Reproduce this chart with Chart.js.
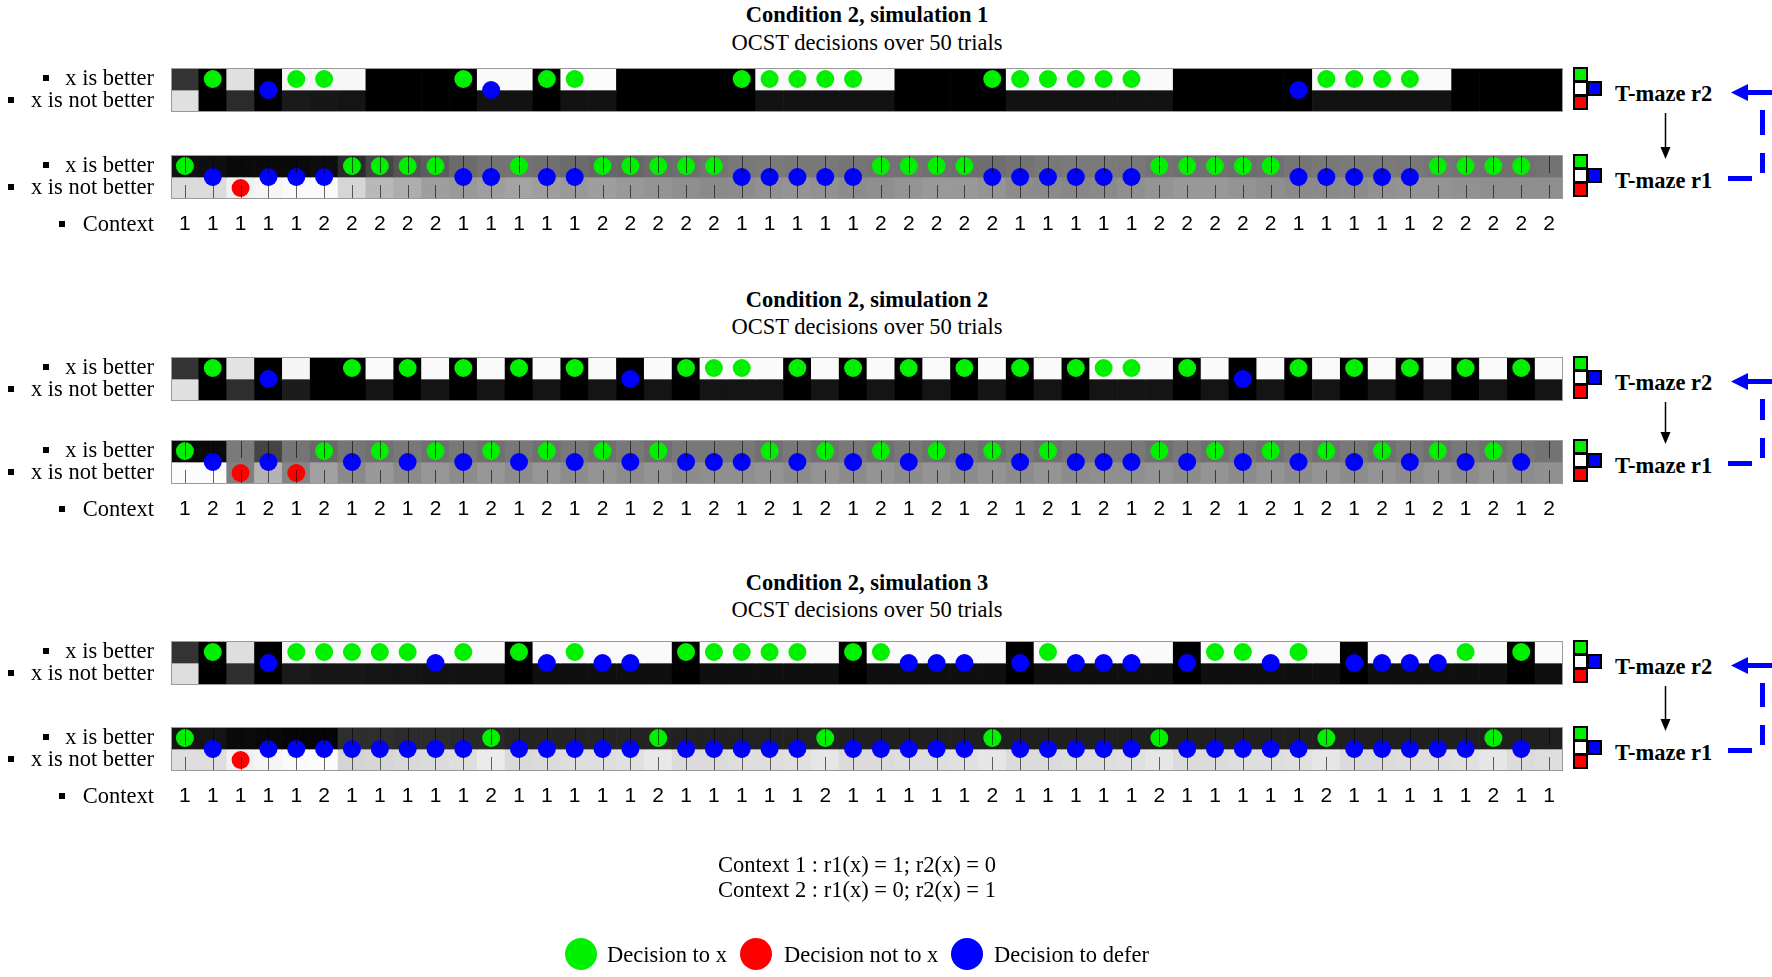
<!DOCTYPE html>
<html>
<head>
<meta charset="utf-8">
<script src="https://cdn.jsdelivr.net/npm/chart.js@4.4.0/dist/chart.umd.min.js"></script>
<style>
  body { margin: 0; background: #fff; }
  #page { position: relative; width: 1772px; height: 977px; overflow: hidden; background: #fff; }
  .txt { position: absolute; font: 22.5px/26px "Liberation Serif", "Times New Roman", serif; white-space: nowrap; color: #000; }
  .sq { position: absolute; width: 15px; height: 15px; box-sizing: border-box; border: 2px solid #000; }
  .dot { position: absolute; width: 32px; height: 32px; border-radius: 50%; }
  svg { position: absolute; left: 0; top: 0; pointer-events: none; }
</style>
</head>
<body>
<div id="page"></div>
<script>
// ---- data (50 trials per simulation) ----
const trials = Array.from({ length: 50 }, (_, i) => String(i + 1));

// context per trial
const sim1Context = '11111222221111122222111112222211111222221111122222'.split('');
const sim2Context = '12121212121212121212121212121212121212121212121212'.split('');
const sim3Context = '11111211111211111211111211111211111211111211111211'.split('');

// decisions per trial: x = decision to x, n = decision not to x, d = decision to defer, . = none
const sim1R2Decisions = '.x.dxx....xd.xx.....xxxxx....xxxxxx.....dxxxx.....'.split('');
const sim1R1Decisions = 'xdndddxxxxddxddxxxxxdddddxxxxddddddxxxxxdddddxxxx.'.split('');
const sim2R2Decisions = '.x.d..x.x.x.x.x.d.xxx.x.x.x.x.x.xxx.x.d.x.x.x.x.x.'.split('');
const sim2R1Decisions = 'xdndnxdxdxdxdxdxdxdddxdxdxdxdxdxdddxdxdxdxdxdxdxd.'.split('');
const sim3R2Decisions = '.x.dxxxxxdx.xdxdd.xxxxx.xxddd.dxddd.dxxdx.ddddx.x.'.split('');
const sim3R1Decisions = 'xdnddddddddxdddddxdddddxdddddxdddddxdddddxdddddxd.'.split('');

// cell shades (0 = black, 1 = white), rows "x is better" / "x is not better"
const sim1R2Top = [0.2,0,0.88,0,0.96,0.97,0.97,0,0,0, 0,0.98,0.98,0,0.99,0.99,0,0,0,0, 0,0.98,0.98,0.98,0.98,0.98,0,0,0,0, 0.98,0.98,0.98,0.98,0.98,0.98,0,0,0,0, 0,0.98,0.98,0.98,0.98,0.98,0,0,0,0];
const sim1R2Bottom = [0.88,0,0.17,0,0.1,0.09,0.08,0,0,0, 0,0.07,0.07,0,0.07,0.07,0,0,0,0, 0,0.07,0.07,0.07,0.07,0.07,0,0,0,0, 0.07,0.07,0.07,0.07,0.07,0.07,0,0,0,0, 0,0.07,0.07,0.07,0.07,0.07,0,0,0,0];
const sim1R1Top = [0.07,0.06,0.04,0.04,0.04,0.05,0.17,0.27,0.33,0.36, 0.42,0.45,0.45,0.44,0.42,0.40,0.40,0.42,0.43,0.45, 0.47,0.48,0.47,0.47,0.46,0.45,0.45,0.44,0.43,0.43, 0.45,0.47,0.48,0.48,0.47,0.45,0.44,0.44,0.43,0.44, 0.46,0.47,0.48,0.48,0.47,0.46,0.45,0.44,0.44,0.45];
const sim1R1Bottom = [0.86,0.86,0.94,0.96,0.98,0.98,0.84,0.72,0.68,0.62, 0.60,0.62,0.64,0.62,0.60,0.62,0.60,0.58,0.56,0.54, 0.55,0.57,0.58,0.57,0.55,0.56,0.58,0.60,0.60,0.58, 0.55,0.54,0.53,0.54,0.56,0.58,0.60,0.60,0.58,0.56, 0.54,0.54,0.55,0.57,0.58,0.58,0.57,0.56,0.56,0.56];

const sim2R2Top = [0.2,0,0.89,0,0.96,0,0,0.98,0,0.98, 0,0.98,0,0.98,0,0.98,0,0.98,0,0.98, 0.98,0.98,0,0.98,0,0.98,0,0.98,0,0.98, 0,0.98,0,0.98,0.98,0.98,0,0.98,0,0.98, 0,0.98,0,0.98,0,0.98,0,0.98,0,0.98];
const sim2R2Bottom = [0.88,0,0.18,0,0.11,0,0,0.08,0,0.08, 0,0.08,0,0.08,0,0.08,0,0.08,0,0.08, 0.08,0.08,0,0.08,0,0.08,0,0.08,0,0.08, 0,0.08,0,0.08,0.08,0.08,0,0.08,0,0.08, 0,0.08,0,0.08,0,0.08,0,0.08,0,0.08];
const sim2R1Top = [0.03,0.04,0.48,0.27,0.46,0.41,0.46,0.44,0.47,0.44, 0.47,0.44,0.47,0.44,0.47,0.44,0.47,0.44,0.47,0.47, 0.47,0.44,0.47,0.44,0.47,0.44,0.47,0.44,0.47,0.44, 0.47,0.44,0.47,0.47,0.47,0.44,0.47,0.44,0.47,0.44, 0.47,0.44,0.47,0.44,0.47,0.44,0.47,0.44,0.47,0.45];
const sim2R1Bottom = [0.99,0.99,0.50,0.70,0.52,0.63,0.54,0.60,0.54,0.59, 0.55,0.59,0.55,0.59,0.55,0.58,0.55,0.58,0.55,0.56, 0.56,0.58,0.55,0.58,0.55,0.58,0.55,0.58,0.55,0.58, 0.55,0.58,0.55,0.56,0.56,0.58,0.55,0.58,0.55,0.58, 0.55,0.58,0.55,0.58,0.55,0.58,0.55,0.58,0.55,0.57];

const sim3R2Top = [0.2,0,0.87,0,0.96,0.97,0.97,0.97,0.98,0.98, 0.98,0.98,0,0.98,0.98,0.98,0.98,0.98,0,0.98, 0.98,0.98,0.98,0.98,0,0.98,0.98,0.98,0.98,0.98, 0,0.98,0.98,0.98,0.98,0.98,0,0.98,0.98,0.98, 0.98,0.98,0,0.98,0.98,0.98,0.98,0.98,0,0.98];
const sim3R2Bottom = [0.87,0,0.18,0,0.1,0.09,0.09,0.08,0.08,0.07, 0.07,0.07,0,0.06,0.06,0.06,0.06,0.06,0,0.06, 0.06,0.06,0.06,0.06,0,0.06,0.06,0.06,0.06,0.06, 0,0.06,0.06,0.06,0.06,0.06,0,0.06,0.06,0.06, 0.06,0.06,0,0.06,0.06,0.06,0.06,0.06,0,0.06];
const sim3R1Top = [0.08,0.08,0.04,0.03,0.02,0.02,0.18,0.18,0.17,0.17, 0.16,0.16,0.14,0.14,0.14,0.14,0.14,0.14,0.13,0.13, 0.13,0.13,0.13,0.13,0.12,0.12,0.12,0.12,0.12,0.12, 0.12,0.12,0.12,0.12,0.12,0.12,0.12,0.12,0.12,0.12, 0.12,0.12,0.12,0.12,0.12,0.12,0.12,0.12,0.12,0.12];
const sim3R1Bottom = [0.87,0.87,0.94,0.96,0.98,0.99,0.83,0.84,0.85,0.86, 0.87,0.92,0.85,0.86,0.87,0.87,0.88,0.91,0.86,0.86, 0.87,0.87,0.88,0.90,0.86,0.86,0.87,0.87,0.88,0.90, 0.86,0.86,0.87,0.87,0.88,0.90,0.86,0.86,0.87,0.87, 0.88,0.90,0.86,0.86,0.87,0.87,0.88,0.90,0.86,0.87];

const titles = ['Condition 2, simulation 1', 'Condition 2, simulation 2', 'Condition 2, simulation 3'];
const rowLabels = ['x is better', 'x is not better'];
const legendLabels = ['Decision to x', 'Decision not to x', 'Decision to defer'];
const contextNotes = ['Context 1 : r1(x) = 1; r2(x) = 0', 'Context 2 : r1(x) = 0; r2(x) = 1'];

// ---- layout ----
const SERIF = '"Liberation Serif", "Times New Roman", serif';
const SANS = '"Liberation Sans", Arial, sans-serif';
const GREEN = '#00f000', RED = '#ff0000', BLUE = '#0000ff';
const AREA_LEFT = 171, AREA_RIGHT = 1563, ROW_H = 44, AXIS_H = 40;

const sims = [
  { context: sim1Context, r2: [sim1R2Top, sim1R2Bottom, sim1R2Decisions], r1: [sim1R1Top, sim1R1Bottom, sim1R1Decisions] },
  { context: sim2Context, r2: [sim2R2Top, sim2R2Bottom, sim2R2Decisions], r1: [sim2R1Top, sim2R1Bottom, sim2R1Decisions] },
  { context: sim3Context, r2: [sim3R2Top, sim3R2Bottom, sim3R2Decisions], r1: [sim3R1Top, sim3R1Bottom, sim3R1Decisions] }
];
const placement = [
  { titleY: 15, subY: 43, r2Top: 68, r1Top: 155 },
  { titleY: 300, subY: 327, r2Top: 357, r1Top: 440 },
  { titleY: 583, subY: 610, r2Top: 641, r1Top: 727 }
];

const page = document.getElementById('page');

function gray(v) {
  const c = Math.round(v * 255);
  return `rgb(${c},${c},${c})`;
}

function addText(str, x, yc, align, bold) {
  const el = document.createElement('div');
  el.className = 'txt';
  el.textContent = str;
  el.style.top = (yc - 13) + 'px';
  if (align === 'center') {
    el.style.left = (x - 400) + 'px';
    el.style.width = '800px';
    el.style.textAlign = 'center';
  } else {
    el.style.left = x + 'px';
  }
  if (bold) el.style.fontWeight = 'bold';
  page.appendChild(el);
}

// tick marks at cell centres, frame, bullets and the "Context" label
const rowDecor = {
  id: 'rowDecor',
  afterDatasetsDraw(chart, args, opts) {
    const { ctx, chartArea: a, scales: { x } } = chart;
    ctx.save();
    if (opts.ticks) {
      ctx.strokeStyle = 'rgba(0,0,0,0.6)';
      ctx.lineWidth = 1;
      ctx.beginPath();
      chart.data.labels.forEach((_, i) => {
        const px = Math.round(x.getPixelForValue(i)) + 0.5;
        ctx.moveTo(px, a.top);
        ctx.lineTo(px, a.top + 18);
        ctx.moveTo(px, a.bottom);
        ctx.lineTo(px, a.bottom - 14);
      });
      ctx.stroke();
    }
    ctx.strokeStyle = '#9a9a9a';
    ctx.lineWidth = 1;
    ctx.strokeRect(Math.round(a.left) + 0.5, Math.round(a.top) + 0.5,
      Math.round(a.right - a.left) - 1, Math.round(a.bottom - a.top) - 1);
    ctx.restore();
  },
  afterDraw(chart, args, opts) {
    const { ctx, chartArea: a, scales: { y } } = chart;
    ctx.save();
    ctx.font = `22.5px ${SERIF}`;
    ctx.fillStyle = '#000';
    y.ticks.forEach(t => {
      const w = ctx.measureText(t.label).width;
      const bx = Math.round(a.left - 17 - w - 16.5 - 6);
      ctx.fillRect(bx, Math.round(y.getPixelForValue(t.value)) - 4, 6, 6);
    });
    if (opts.context) {
      const yc = a.bottom + 25.6;
      ctx.textAlign = 'right';
      ctx.textBaseline = 'middle';
      ctx.fillText('Context', a.left - 17, yc);
      const w = ctx.measureText('Context').width;
      ctx.fillRect(Math.round(a.left - 17 - w - 18 - 6), Math.round(yc) - 4, 6, 6);
    }
    ctx.restore();
  }
};

function makeRow(top, shadeTop, shadeBottom, decisions, context) {
  const box = document.createElement('div');
  box.style.position = 'absolute';
  box.style.left = '0px';
  box.style.top = (top - 1) + 'px';
  box.style.width = (AREA_RIGHT + 1) + 'px';
  box.style.height = (ROW_H + 1 + (context ? AXIS_H : 1)) + 'px';
  const canvas = document.createElement('canvas');
  box.appendChild(canvas);
  page.appendChild(box);

  const points = (code, yv, color) => ({
    type: 'line',
    data: decisions.map(d => d === code ? yv : null),
    showLine: false,
    pointRadius: 9,
    pointHoverRadius: 9,
    pointBorderWidth: 0,
    pointBackgroundColor: color,
    order: 1
  });
  const cells = (range, shades) => ({
    type: 'bar',
    data: trials.map(() => range),
    backgroundColor: shades.map(gray),
    borderWidth: 0,
    grouped: false,
    barPercentage: 1,
    categoryPercentage: 1,
    order: 2
  });

  new Chart(canvas, {
    type: 'bar',
    data: {
      labels: trials,
      datasets: [
        points('x', 1.5, GREEN),
        points('d', 1, BLUE),
        points('n', 0.5, RED),
        cells([1, 2], shadeTop),
        cells([0, 1], shadeBottom)
      ]
    },
    options: {
      responsive: true,
      maintainAspectRatio: false,
      animation: false,
      events: [],
      layout: { autoPadding: false, padding: { top: 1, right: 1, bottom: context ? 0 : 1, left: 0 } },
      plugins: {
        legend: { display: false },
        tooltip: { enabled: false },
        rowDecor: { ticks: !!context, context: !!context }
      },
      scales: {
        x: {
          type: 'category',
          offset: true,
          display: !!context,
          grid: { display: false, drawTicks: false },
          border: { display: false },
          ticks: {
            autoSkip: false,
            maxRotation: 0,
            minRotation: 0,
            padding: 13,
            color: '#000',
            font: { family: SANS, size: 21 },
            callback: (v, i) => context ? context[i] : ''
          },
          afterFit: s => {
            s.height = context ? AXIS_H : 0;
            s.paddingLeft = 0;
            s.paddingRight = 0;
          }
        },
        y: {
          type: 'linear',
          min: 0,
          max: 2,
          grid: { display: false, drawTicks: false },
          border: { display: false },
          afterBuildTicks: s => { s.ticks = [{ value: 0.5 }, { value: 1.5 }]; },
          afterFit: s => {
            s.width = AREA_LEFT;
            s.paddingTop = 0;
            s.paddingBottom = 0;
          },
          ticks: {
            autoSkip: false,
            padding: 17,
            color: '#000',
            font: { family: SERIF, size: 22.5 },
            callback: v => v > 1 ? rowLabels[0] : rowLabels[1]
          }
        }
      }
    },
    plugins: [rowDecor]
  });
}

function addSquares(top) {
  const add = (x, y, color) => {
    const s = document.createElement('div');
    s.className = 'sq';
    s.style.left = x + 'px';
    s.style.top = y + 'px';
    s.style.background = color;
    page.appendChild(s);
  };
  add(1573, top - 1, GREEN);
  add(1573, top + 13, '#fff');
  add(1573, top + 27, RED);
  add(1587, top + 13, BLUE);
}

let svg = '';
sims.forEach((sim, k) => {
  const p = placement[k];
  addText(titles[k], 867, p.titleY, 'center', true);
  addText('OCST decisions over 50 trials', 867, p.subY, 'center', false);
  makeRow(p.r2Top, sim.r2[0], sim.r2[1], sim.r2[2], null);
  makeRow(p.r1Top, sim.r1[0], sim.r1[1], sim.r1[2], sim.context);
  addSquares(p.r2Top);
  addSquares(p.r1Top);
  addText('T-maze r2', 1615, p.r2Top + 25.5, 'left', true);
  addText('T-maze r1', 1615, p.r1Top + 25.5, 'left', true);

  const R2 = p.r2Top, R1 = p.r1Top;
  svg += `<line x1="1665.5" y1="${R2 + 45}" x2="1665.5" y2="${R1 - 6}" stroke="#000" stroke-width="1.5"/>`;
  svg += `<polygon points="1660.5,${R1 - 8} 1670.5,${R1 - 8} 1665.5,${R1 + 4}" fill="#000"/>`;
  svg += `<rect x="1745" y="${R2 + 22}" width="27" height="5" fill="${BLUE}"/>`;
  svg += `<polygon points="1731,${R2 + 24.5} 1748,${R2 + 16} 1748,${R2 + 33}" fill="${BLUE}"/>`;
  svg += `<rect x="1760" y="${R2 + 42}" width="5" height="${R1 - 20 - (R2 + 42)}" fill="${BLUE}"/>`;
  svg += `<rect x="1760" y="${R1 - 2}" width="5" height="20" fill="${BLUE}"/>`;
  svg += `<rect x="1728" y="${R1 + 21}" width="24" height="5" fill="${BLUE}"/>`;
});

const svgEl = document.createElementNS('http://www.w3.org/2000/svg', 'svg');
svgEl.setAttribute('width', '1772');
svgEl.setAttribute('height', '977');
svgEl.innerHTML = svg;
page.appendChild(svgEl);

// notes and legend
addText(contextNotes[0], 857, 865, 'center', false);
addText(contextNotes[1], 857, 890, 'center', false);

const legendDots = [[581, GREEN], [756, RED], [967, BLUE]];
const legendTextX = [607, 784, 994];
legendDots.forEach(([cx, color], i) => {
  const d = document.createElement('div');
  d.className = 'dot';
  d.style.left = (cx - 16) + 'px';
  d.style.top = (954 - 16) + 'px';
  d.style.background = color;
  page.appendChild(d);
  addText(legendLabels[i], legendTextX[i], 955, 'left', false);
});
</script>
</body>
</html>
